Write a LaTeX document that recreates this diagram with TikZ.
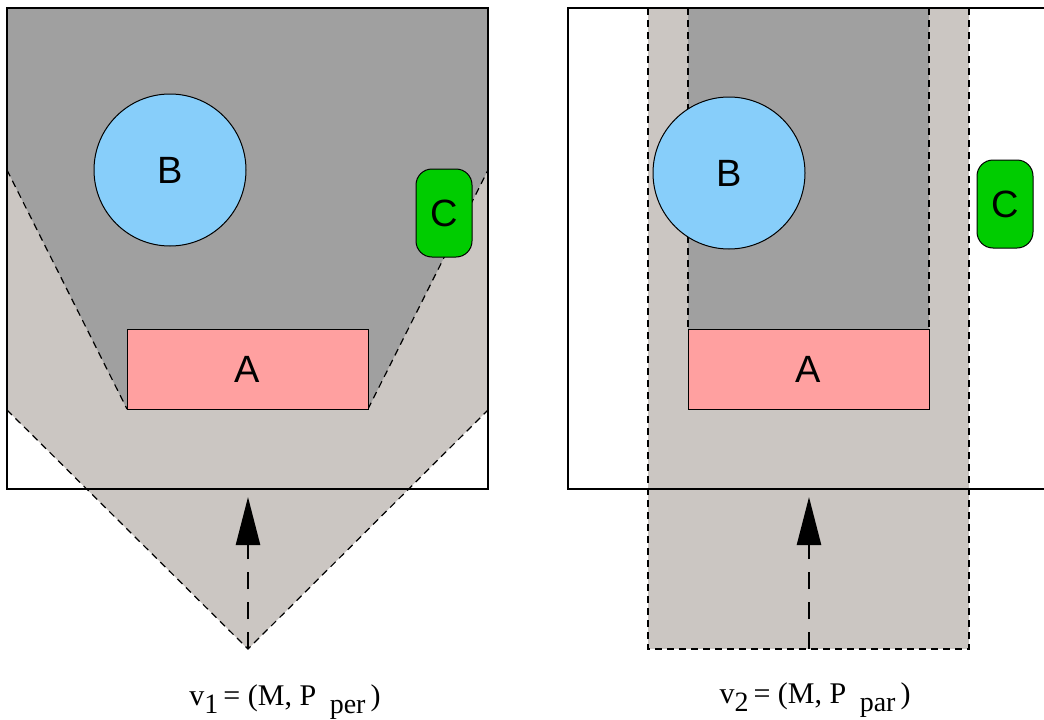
\documentclass[tikz,border=0pt]{standalone}
\usepackage{fontspec}
\setmainfont{Liberation Serif}
\newfontfamily\labfont{Liberation Sans}
\usetikzlibrary{arrows.meta}
\definecolor{darkg}{HTML}{A0A0A0}
\definecolor{lightg}{HTML}{CBC6C2}
\definecolor{bluefill}{HTML}{87CEFA}
\definecolor{greenfill}{HTML}{00CC00}
\definecolor{pinkfill}{HTML}{FFA0A0}
\newcommand{\lowsub}[1]{\raisebox{-8pt}{\fontsize{28}{30}\selectfont #1}}
\tikzset{
  obj/.style={draw=black, line width=1pt, inner sep=0pt, font=\labfont\fontsize{38}{42}\selectfont},
  abox/.style={obj, fill=pinkfill, minimum width=241pt, minimum height=80pt},
  bcirc/.style={obj, circle, fill=bluefill, minimum size=152pt},
  cbox/.style={obj, fill=greenfill, rounded corners=16pt, minimum width=56pt, minimum height=88pt},
  bound/.style={line width=1.2pt, dash pattern=on 7pt off 5pt},
  frameline/.style={line width=2.5pt},
  viewarrow/.style={line width=2.5pt, dash pattern=on 17pt off 13pt, -{Triangle[length=48pt,width=24pt]}},
  vlabel/.style={inner sep=0pt, anchor=base, font=\fontsize{30}{33}\selectfont}
}
\begin{document}
\begin{tikzpicture}[x=1pt,y=-1pt]
\useasboundingbox (0,0) rectangle (1044,720);
% ---------- left panel ----------
\fill[lightg] (7,170) -- (7,410) -- (248,649) -- (488,410) -- (488,170) -- cycle;
\fill[darkg] (7,8) -- (488,8) -- (488,170) -- (368,409) -- (127,409) -- (7,170) -- cycle;
\draw[bound] (7,170) -- (127,409);
\draw[bound] (368,409) -- (488,170);
\draw[bound] (7,410) -- (248,649) -- (488,410);
\node[abox] (A1) at (247.5,369) {A};
\node[bcirc] (B1) at (170,170) {B};
\node[cbox] (C1) at (444,213) {C};
\draw[frameline] (7,8) rectangle (488,489);
\coordinate (apex1) at (248,649);
\coordinate (tip1) at (248,497);
\draw[viewarrow] (apex1) -- (tip1);
\node[vlabel] (lab1) at (285,705) {v\lowsub{1}\,= (M, P\hspace{0.45em}\lowsub{per}\,)};
% ---------- right panel ----------
\fill[lightg] (648,8) rectangle (969,649);
\fill[darkg] (688,8) rectangle (929,329);
\draw[bound] (648,8) -- (648,649) -- (969,649) -- (969,8);
\draw[bound] (688,8) -- (688,329);
\draw[bound] (929,8) -- (929,329);
\node[abox] (A2) at (808.5,369) {A};
\node[bcirc] (B2) at (729,173) {B};
\node[cbox] (C2) at (1005,204) {C};
\draw[frameline] (1044,8) -- (568,8) -- (568,489) -- (1044,489);
\coordinate (apex2) at (809,649);
\coordinate (tip2) at (809,497);
\draw[viewarrow] (apex2) -- (tip2);
\node[vlabel] (lab2) at (815,703) {v\lowsub{2}\,= (M, P\hspace{0.45em}\lowsub{par}\,)};
\end{tikzpicture}
\end{document}
